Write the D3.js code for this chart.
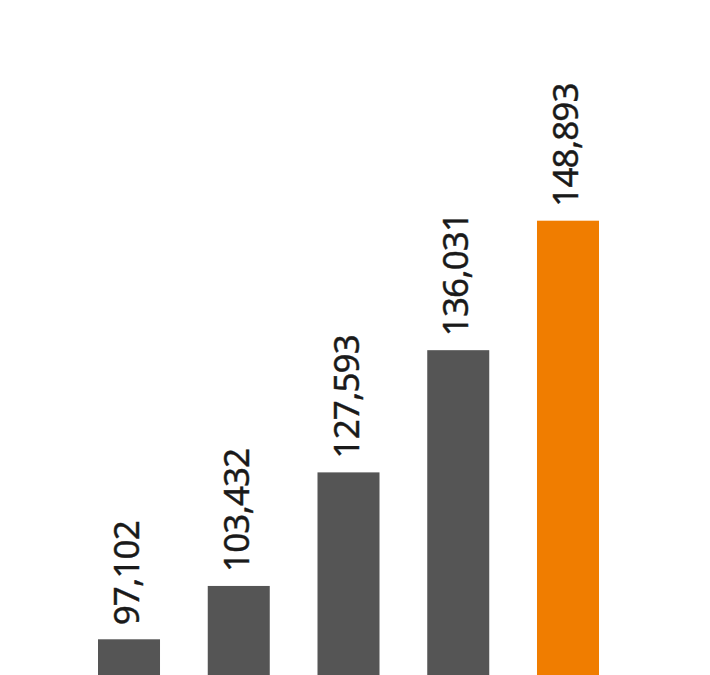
<!DOCTYPE html>
<html>
<head>
<meta charset="utf-8">
<script src="https://cdn.jsdelivr.net/npm/d3@7"></script>
<style>
  html, body { margin: 0; padding: 0; background: #ffffff; }
  svg { display: block; }
</style>
</head>
<body>
<div id="chart"></div>
<script>
// Data
const categories = ["1", "2", "3", "4", "5"];
const values = [97102, 103432, 127593, 136031, 148893];
// Visual bar height (percent of tallest bar)
const barLevels = [7.86, 19.6, 44.6, 71.5, 100];
const highlight = [false, false, false, false, true];

const W = 710, H = 675;
const svg = d3.select("#chart").append("svg").attr("width", W).attr("height", H);

const x = d3.scaleBand().domain(categories).range([98, 599]).paddingInner(0.435).paddingOuter(0);
const y = d3.scaleLinear().domain([0, 100]).range([675, 220.7]);

const fmt = d3.format(",");

svg.selectAll("rect.bar")
  .data(categories)
  .join("rect")
  .attr("class", "bar")
  .attr("x", d => x(d))
  .attr("width", x.bandwidth())
  .attr("y", (d, i) => y(barLevels[i]))
  .attr("height", (d, i) => y(0) - y(barLevels[i]))
  .attr("fill", (d, i) => highlight[i] ? "#F07D00" : "#555555");

svg.selectAll("text.lbl")
  .data(categories)
  .join("text")
  .attr("class", "lbl")
  .attr("transform", (d, i) => `translate(${x(d) + x.bandwidth() / 2 + 10},${y(barLevels[i]) - 14}) rotate(-90)`)
  .attr("text-anchor", "start")
  .attr("font-family", "'Noto Sans', sans-serif")
  .attr("font-size", 35)
  .attr("letter-spacing", -0.9)
  .attr("stroke", "#1a1a1a")
  .attr("stroke-width", 0.4)
  .attr("fill", "#1a1a1a")
  .text((d, i) => fmt(values[i]));
</script>
</body>
</html>
